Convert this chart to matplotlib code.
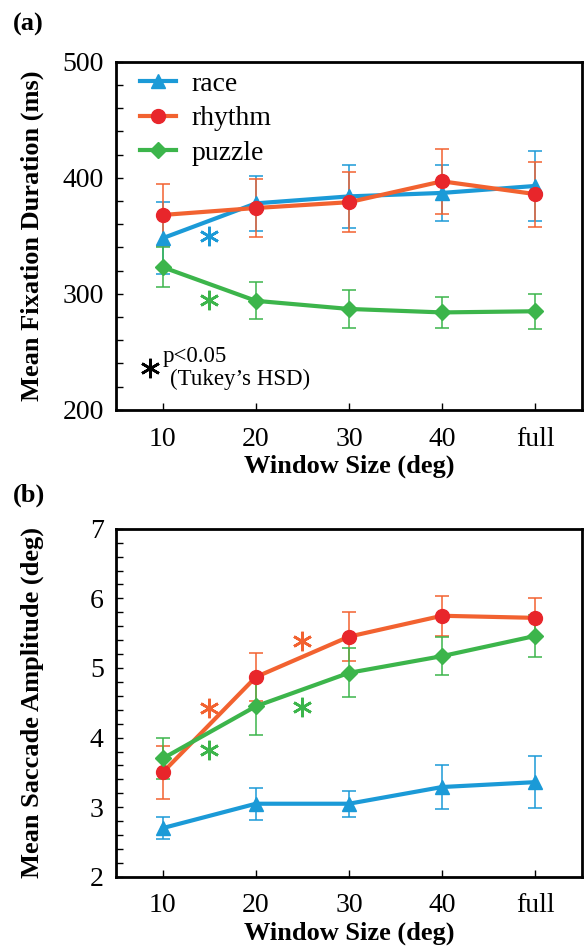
import numpy as np
import matplotlib
matplotlib.use("Agg")
import matplotlib.pyplot as plt
from matplotlib.ticker import MultipleLocator

plt.rcParams['font.family'] = ['Liberation Serif', 'DejaVu Serif']

# window sizes
windows = ['10', '20', '30', '40', 'full']

# (a) mean fixation duration (ms) and error bars
fix_race = [348, 378, 384, 387, 393]
fix_race_err = [31, 24, 27, 24, 30]
fix_rhythm = [368, 374, 379, 397, 386]
fix_rhythm_err = [27, 25, 26, 28, 28]
fix_puzzle = [323, 294, 287, 284, 285]
fix_puzzle_err = [17, 16, 16, 13, 15]

# (b) mean saccade amplitude (deg) and error bars
sac_race = [2.70, 3.05, 3.05, 3.29, 3.36]
sac_race_err = [0.16, 0.23, 0.19, 0.32, 0.37]
sac_rhythm = [3.50, 4.87, 5.45, 5.75, 5.72]
sac_rhythm_err = [0.38, 0.35, 0.35, 0.29, 0.28]
sac_puzzle = [3.70, 4.45, 4.93, 5.17, 5.46]
sac_puzzle_err = [0.29, 0.41, 0.35, 0.27, 0.30]

# significance asterisks: (x position between windows, y, series)
stars_a = [(1.5, 350, 'race'), (1.5, 295, 'puzzle')]
stars_b = [(1.5, 4.43, 'rhythm'), (1.5, 3.82, 'puzzle'),
           (2.5, 5.39, 'rhythm'), (2.5, 4.44, 'puzzle')]

blue = '#1b9ad7'
orange = '#f26230'
red = '#e8262b'
green = '#3cb54b'
styles = {
    'race': dict(color=blue, marker='^', mfc=blue, mec=blue, ms=10),
    'rhythm': dict(color=orange, marker='o', mfc=red, mec=red, ms=10),
    'puzzle': dict(color=green, marker='D', mfc=green, mec=green, ms=8),
}
star = (6, 2, 0)  # six-armed asterisk marker

x = np.arange(1, len(windows) + 1)

fig = plt.figure(figsize=(5.84, 9.51), dpi=100)
ax1 = fig.add_axes([0.199, 0.569, 0.797, 0.366])
ax2 = fig.add_axes([0.199, 0.078, 0.797, 0.366])


def draw(ax, data, stars):
    for name, (vals, errs) in data.items():
        st = styles[name]
        ax.errorbar(x, vals, yerr=errs, fmt='none', ecolor=st['color'],
                    elinewidth=1.1, capsize=5, capthick=1.1, zorder=2)
        ax.plot(x, vals, color=st['color'], lw=3, marker=st['marker'],
                mfc=st['mfc'], mec=st['mec'], ms=st['ms'], label=name, zorder=3)
    for sx, sy, name in stars:
        ax.plot(sx, sy, marker=star, ms=14, mew=1.9, color=styles[name]['color'])
    ax.set_xlim(0.5, 5.5)
    ax.set_xticks(x)
    ax.set_xticklabels(windows)
    ax.tick_params(direction='in', labelsize=20, length=5, width=1,
                   top=False, right=False, pad=9)
    ax.tick_params(axis='x', pad=12)
    ax.tick_params(axis='y', which='minor', direction='in', length=5, width=1)
    for sp in ax.spines.values():
        sp.set_linewidth(2)
    ax.set_xlabel('Window Size (deg)', fontsize=19, fontweight='bold', labelpad=2)
    ax.yaxis.set_label_coords(-0.155, 0.5)


draw(ax1, {'race': (fix_race, fix_race_err),
           'rhythm': (fix_rhythm, fix_rhythm_err),
           'puzzle': (fix_puzzle, fix_puzzle_err)}, stars_a)
ax1.set_ylim(200, 500)
ax1.yaxis.set_major_locator(MultipleLocator(100))
ax1.yaxis.set_minor_locator(MultipleLocator(20))
ax1.set_ylabel('Mean Fixation Duration (ms)', fontsize=19, fontweight='bold')
ax1.legend(loc='upper left', bbox_to_anchor=(0.03, 1.0), frameon=False,
           fontsize=20, handlelength=1.3, handletextpad=0.55,
           labelspacing=0.32, borderaxespad=0.15, borderpad=0.2)
ax1.plot(0.86, 236, marker=star, ms=14, mew=1.9, color='black')
ax1.text(1.0, 246, 'p<0.05', fontsize=16.5, ha='left', va='center')
ax1.text(1.075, 226, '(Tukey\u2019s HSD)', fontsize=16.5, ha='left', va='center')

draw(ax2, {'race': (sac_race, sac_race_err),
           'rhythm': (sac_rhythm, sac_rhythm_err),
           'puzzle': (sac_puzzle, sac_puzzle_err)}, stars_b)
ax2.set_ylim(2, 7)
ax2.yaxis.set_major_locator(MultipleLocator(1))
ax2.yaxis.set_minor_locator(MultipleLocator(0.2))
ax2.set_ylabel('Mean Saccade Amplitude (deg)', fontsize=19, fontweight='bold')

fig.text(0.022, 0.974, '(a)', fontsize=19, fontweight='bold', va='center')
fig.text(0.022, 0.479, '(b)', fontsize=19, fontweight='bold', va='center')

fig.savefig('out.png', dpi=100)
